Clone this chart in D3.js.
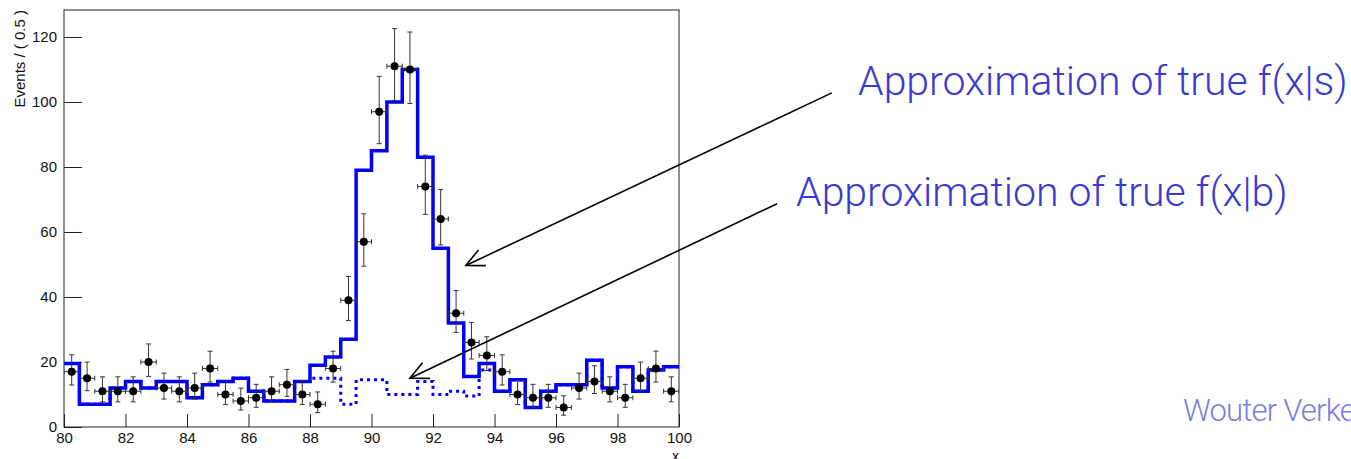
<!DOCTYPE html>
<html>
<head>
<meta charset="utf-8">
<script src="https://cdn.jsdelivr.net/npm/d3@7"></script>
<style>
  html, body { margin: 0; padding: 0; background: #fff; overflow: hidden; }
  svg { display: block; }
</style>
</head>
<body>
<svg id="chart" width="1351" height="459"></svg>
<script>
// ---- binning of the observable x : 40 bins of width 0.5 on [80, 100]
const binWidth = 0.5;
const binLow = d3.range(80, 100, binWidth);

// observed event counts per bin
const observed = [17, 15, 11, 11, 11, 20, 12, 11, 12, 18,
                  10,  8,  9, 11, 13, 10,  7, 18, 39, 57,
                  97, 111, 110, 74, 64, 35, 26, 22, 17, 10,
                   9,  9,  6, 12, 14, 11,  9, 15, 18, 11];

// signal + background template, f(x|s)
const totalModel = [19.5, 7, 7, 12, 14, 12, 14, 14, 9, 13,
                    14, 15, 11, 8, 8, 14, 19, 21.5, 27, 79,
                    85, 100, 110, 83, 55, 32, 15.5, 19.5, 11, 14.5,
                    6, 11, 13, 13, 20.5, 12, 18.5, 11, 17.5, 18.5];

// background-only template, f(x|b)
const bkgModel = [19.5, 7, 7, 12, 14, 12, 14, 14, 9, 13,
                  14, 15, 11, 8, 8, 14, 15, 15, 7, 14.5,
                  14.5, 10, 10, 14, 10, 11, 9.5, 17.5, 11, 14.5,
                  6, 11, 13, 13, 20.5, 12, 18.5, 11, 17.5, 18.5];

const xTicks = [80, 82, 84, 86, 88, 90, 92, 94, 96, 98, 100];
const xMinorTicks = d3.range(80, 100.01, 0.5);
const yTicks = [0, 20, 40, 60, 80, 100, 120];
const yMinorTicks = d3.range(0, 126, 5);
const xTitle = "x";
const yTitle = "Events / ( 0.5 )";

// callouts: label text and arrow (tail -> tip) in data coordinates
const callouts = [
  { text: "Approximation of true f(x|s)", tx: 858, ty: 95, tail: [104.97, 102.8], tip: [93.07, 49.7] },
  { text: "Approximation of true f(x|b)", tx: 796, ty: 206, tail: [103.19, 68.7], tip: [91.25, 15.0] }
];
const credit = "Wouter Verke";

// ---- layout
const frame = { left: 64, right: 679, top: 10, bottom: 427 };
const svg = d3.select("#chart");

const x = d3.scaleLinear().domain([80, 100]).range([frame.left, frame.right]);
const y = d3.scaleLinear().domain([0, 128.3]).range([frame.bottom, frame.top]);

svg.append("defs").append("clipPath").attr("id", "plotClip")
  .append("rect")
  .attr("x", frame.left).attr("y", frame.top)
  .attr("width", frame.right - frame.left).attr("height", frame.bottom - frame.top);

// frame
svg.append("rect")
  .attr("x", frame.left).attr("y", frame.top)
  .attr("width", frame.right - frame.left).attr("height", frame.bottom - frame.top)
  .attr("fill", "none").attr("stroke", "#222").attr("stroke-width", 1);

const tickFont = "'Liberation Sans', Arial, Helvetica, sans-serif";

// x axis (ticks pointing into the frame)
const gx = svg.append("g").attr("transform", `translate(0,${frame.bottom})`);
gx.call(d3.axisBottom(x).tickValues(xMinorTicks).tickSize(-7).tickFormat(""));
gx.call(d3.axisBottom(x).tickValues(xTicks).tickSize(-13).tickPadding(5).tickFormat(d3.format("d")));
gx.selectAll(".domain").remove();
gx.selectAll("line").attr("stroke", "#222");
gx.selectAll("text").attr("font-family", tickFont).attr("font-size", 15).attr("fill", "#111");

// y axis
const gy = svg.append("g").attr("transform", `translate(${frame.left},0)`);
gy.call(d3.axisLeft(y).tickValues(yMinorTicks).tickSize(-9).tickFormat(""));
gy.call(d3.axisLeft(y).tickValues(yTicks).tickSize(-18).tickPadding(7).tickFormat(d3.format("d")));
gy.selectAll(".domain").remove();
gy.selectAll("line").attr("stroke", "#222");
gy.selectAll("text").attr("font-family", tickFont).attr("font-size", 15).attr("fill", "#111");

// axis titles
svg.append("text")
  .attr("transform", `translate(25,${frame.top}) rotate(-90)`)
  .attr("text-anchor", "end")
  .attr("font-family", tickFont).attr("font-size", 15).attr("fill", "#111")
  .text(yTitle);

svg.append("text")
  .attr("x", frame.right).attr("y", 461)
  .attr("text-anchor", "end")
  .attr("font-family", tickFont).attr("font-size", 14).attr("fill", "#111")
  .text(xTitle);

// ---- histogram templates as step lines
const stepPts = vals => vals.map((v, i) => [binLow[i], v]).concat([[100, vals[vals.length - 1]]]);
const step = d3.line().x(d => x(d[0])).y(d => y(d[1])).curve(d3.curveStepAfter);

const plot = svg.append("g").attr("clip-path", "url(#plotClip)");

plot.append("path")
  .attr("d", step(stepPts(bkgModel)))
  .attr("fill", "none").attr("stroke", "#0000ff")
  .attr("stroke-width", 3).attr("stroke-dasharray", "3,4");

plot.append("path")
  .attr("d", step(stepPts(totalModel)))
  .attr("fill", "none").attr("stroke", "#0000ff")
  .attr("stroke-width", 3.5).attr("stroke-linejoin", "miter");

// ---- data points with Poisson (Gehrels) intervals
function poissonInterval(n) {
  const hi = n + Math.sqrt(n + 0.75) + 1;
  const lo = n === 0 ? 0 : n * Math.pow(1 - 1 / (9 * n) - 1 / (3 * Math.sqrt(n)), 3);
  return [lo, hi];
}

const pts = observed.map((n, i) => {
  const [lo, hi] = poissonInterval(n);
  return { x0: binLow[i], x1: binLow[i] + binWidth, xc: binLow[i] + binWidth / 2, n, lo, hi };
});

const errG = plot.append("g").attr("stroke", "#333").attr("stroke-width", 1);
const cap = 2.5;
pts.forEach(p => {
  const cx = x(p.xc), cy = y(p.n);
  errG.append("line").attr("x1", cx).attr("x2", cx).attr("y1", y(p.lo)).attr("y2", y(p.hi));
  errG.append("line").attr("x1", cx - cap).attr("x2", cx + cap).attr("y1", y(p.lo)).attr("y2", y(p.lo));
  errG.append("line").attr("x1", cx - cap).attr("x2", cx + cap).attr("y1", y(p.hi)).attr("y2", y(p.hi));
  errG.append("line").attr("x1", x(p.x0)).attr("x2", x(p.x1)).attr("y1", cy).attr("y2", cy);
  errG.append("line").attr("x1", x(p.x0)).attr("x2", x(p.x0)).attr("y1", cy - cap).attr("y2", cy + cap);
  errG.append("line").attr("x1", x(p.x1)).attr("x2", x(p.x1)).attr("y1", cy - cap).attr("y2", cy + cap);
});

plot.append("g").selectAll("circle").data(pts).join("circle")
  .attr("cx", d => x(d.xc)).attr("cy", d => y(d.n)).attr("r", 4)
  .attr("fill", "#000");

// ---- callouts
const labelFont = "Roboto, 'Open Sans', Lato, sans-serif";
callouts.forEach(c => {
  svg.append("text")
    .attr("x", c.tx).attr("y", c.ty)
    .attr("font-family", labelFont).attr("font-weight", 300)
    .attr("font-size", 41).attr("fill", "#3a3ad2")
    .text(c.text);

  const [x1, y1] = [x(c.tail[0]), y(c.tail[1])];
  const [x2, y2] = [x(c.tip[0]), y(c.tip[1])];
  const ang = Math.atan2(y1 - y2, x1 - x2);
  const len = 20, spread = 0.45;
  const g = svg.append("g").attr("stroke", "#000").attr("stroke-width", 1.6).attr("fill", "none");
  g.append("line").attr("x1", x1).attr("y1", y1).attr("x2", x2).attr("y2", y2);
  g.append("path").attr("d",
    `M${x2 + len * Math.cos(ang + spread)},${y2 + len * Math.sin(ang + spread)}` +
    `L${x2},${y2}` +
    `L${x2 + len * Math.cos(ang - spread)},${y2 + len * Math.sin(ang - spread)}`);
});

// author credit, running off the right edge of the page
svg.append("text")
  .attr("x", 1183).attr("y", 421)
  .attr("font-family", labelFont).attr("font-weight", 300)
  .attr("font-size", 31).attr("letter-spacing", -0.8).attr("fill", "#7c7ce6")
  .text(credit);
</script>
</body>
</html>
